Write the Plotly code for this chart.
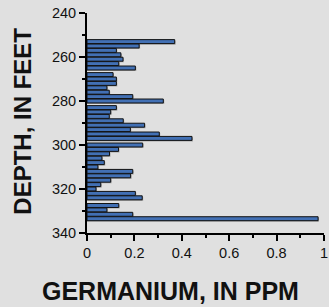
import plotly.graph_objects as go

depth_ft = [253, 255, 257, 259, 261, 263, 265,
            268, 270, 272, 274, 276, 278, 280,
            283, 285, 287, 289, 291, 293, 295, 297,
            300, 302, 304, 306, 308, 310, 312, 314, 316, 318, 320, 322, 324,
            327.5, 329.5, 331.5, 333.5]
germanium_ppm = [0.37, 0.22, 0.124, 0.143, 0.152, 0.134, 0.204,
                 0.11, 0.124, 0.124, 0.084, 0.094, 0.193, 0.322,
                 0.124, 0.10, 0.094, 0.153, 0.243, 0.183, 0.305, 0.443,
                 0.235, 0.133, 0.095, 0.063, 0.073, 0.046, 0.193, 0.184, 0.10, 0.058, 0.038, 0.204, 0.233,
                 0.134, 0.084, 0.193, 0.975]

x_ticks = [0, 0.2, 0.4, 0.6, 0.8, 1]
x_tick_text = ["0", "0.2", "0.4", "0.6", "0.8", "1"]
y_ticks = [240, 260, 280, 300, 320, 340]
x_title = "GERMANIUM, IN PPM"
y_title = "DEPTH, IN FEET"

BG = "#e0e0e0"
font_family = "Liberation Sans, Arial, sans-serif"

fig = go.Figure()
# drop shadow
fig.add_trace(go.Bar(
    x=[v + 0.004 for v in germanium_ppm], y=[d + 0.5 for d in depth_ft], orientation="h",
    width=1.8, marker=dict(color="rgba(120,120,120,0.55)", line=dict(width=0)),
    hoverinfo="skip", showlegend=False))
fig.add_trace(go.Bar(
    x=germanium_ppm, y=depth_ft, orientation="h", width=1.8,
    marker=dict(color="#4270b4", line=dict(color="#111111", width=1)),
    showlegend=False))

fig.update_layout(
    width=329, height=307,
    margin=dict(l=87, r=5, t=13, b=74, autoexpand=False),
    paper_bgcolor=BG, plot_bgcolor=BG,
    barmode="overlay",
    font=dict(family=font_family, color="#111111", size=14),
)
fig.update_xaxes(
    range=[0, 1], tickvals=x_ticks, ticktext=x_tick_text,
    automargin=False,
    showgrid=False, zeroline=False,
    showline=True, linecolor="black", linewidth=2,
    ticks="outside", ticklen=6, tickwidth=2, tickcolor="black",
    minor=dict(dtick=0.1, ticks="outside", ticklen=3, tickwidth=2, tickcolor="black"),
    tickfont=dict(size=14.5, color="#111111"),
)
fig.update_yaxes(
    range=[340, 240], tickvals=y_ticks,
    automargin=False,
    showgrid=False, zeroline=False,
    showline=True, linecolor="black", linewidth=2,
    ticks="outside", ticklen=6, tickwidth=2, tickcolor="black",
    minor=dict(dtick=10, ticks="outside", ticklen=3, tickwidth=2, tickcolor="black"),
    tickfont=dict(size=14.5, color="#111111"),
)
fig.add_annotation(text="<b>" + x_title + "</b>", xref="paper", yref="paper",
                   x=(170 - 87) / 237, y=(233.3 - 291) / 220,
                   xanchor="center", yanchor="middle", showarrow=False,
                   font=dict(size=25, color="#111111"))
fig.add_annotation(text="<b>" + y_title + "</b>", xref="paper", yref="paper",
                   x=(22.5 - 87) / 237, y=(233.3 - 121.5) / 220, textangle=-90,
                   xanchor="center", yanchor="middle", showarrow=False,
                   font=dict(size=24, color="#111111"))

fig.write_html("out.html", config={"displayModeBar": False},
               post_script="document.body.style.margin='0';document.body.style.overflow='hidden';")
